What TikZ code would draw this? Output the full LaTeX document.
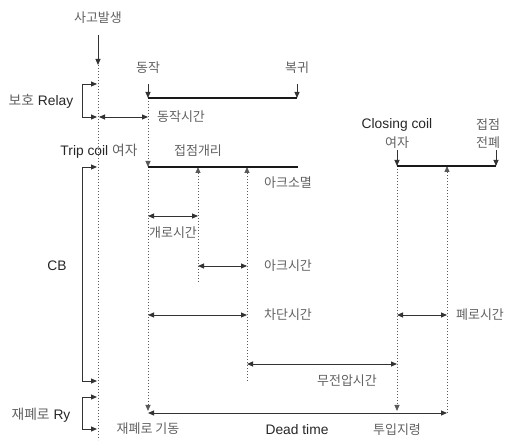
\documentclass[tikz,border=0pt]{standalone}
\usepackage{fontspec}
\setmainfont{Liberation Sans}
\newfontfamily\kr{Noto Sans CJK KR}
\usetikzlibrary{arrows.meta}
\begin{document}
\begin{tikzpicture}[x=1pt,y=-1pt,
  >={Triangle[length=6pt,width=5pt]},
  lbl/.style={font=\fontsize{13.8}{16}\selectfont, text=black!85, inner sep=0pt},
  kl/.style={font=\kr\fontsize{13}{16}\selectfont, text=black!62, inner sep=0pt},
  ln/.style={draw=black!80, line width=0.9pt},
  bar/.style={draw=black!90, line width=2.6pt},
  dot/.style={draw=black!65, line width=0.8pt, dash pattern=on 1.4pt off 1.6pt}]
\useasboundingbox (0,0) rectangle (507,441);

% ---------- labels ----------
\node[kl] (sago) at (98,18) {사고발생};
\node[kl] (dongjak) at (148,68) {동작};
\node[kl] (bokgwi) at (297,68) {복귀};
\node[lbl] (relay) at (41,101) {{\kr\color{black!62}보호} Relay};
\node[kl] (djtime) at (181,117) {동작시간};
\node[lbl] (trip) at (99,151) {Trip coil {\kr\color{black!62}여자}};
\node[kl] (gaeri) at (198,151) {접점개리};
\node[kl] (arcend) at (288,183) {아크소멸};
\node[kl] (gaero) at (173,233) {개로시간};
\node[lbl] (cb) at (57,266) {CB};
\node[kl] (arctime) at (288,266) {아크시간};
\node[kl] (chadan) at (288,315) {차단시간};
\node[kl] (pyero) at (480,315) {폐로시간};
\node[kl] (mujeon) at (347,381) {무전압시간};
\node[lbl] (closing) at (397,125) {Closing coil};
\node[kl] (yeoja) at (397,143) {여자};
\node[kl] (jeopjeom) at (488,125) {접점};
\node[kl] (jeonpye) at (488,143) {전폐};
\node[lbl] (ry) at (41,415) {{\kr\color{black!62}재폐로} Ry};
\node[kl] (gidong) at (148,429) {재폐로 기동};
\node[lbl] (dead) at (297,430) {Dead time};
\node[kl] (tuip) at (397,430) {투입지령};

% ---------- coordinates ----------
\coordinate (a0) at (98,35);   \coordinate (a1) at (98,65);
\coordinate (aend) at (98,440);
\coordinate (a84) at (97,84);  \coordinate (a117) at (97,117);
\coordinate (a117r) at (99,117);
\coordinate (a167) at (97,167); \coordinate (a381) at (97,381);
\coordinate (a397) at (97,397); \coordinate (a429) at (97,429);
\coordinate (k84) at (82,84);  \coordinate (k117) at (82,117);
\coordinate (k167) at (82,167); \coordinate (k381) at (82,381);
\coordinate (k397) at (82,397); \coordinate (k429) at (82,429);

\coordinate (b0) at (148,84);  \coordinate (b1) at (148,98);
\coordinate (b167) at (148,167); \coordinate (b117) at (148,117);
\coordinate (b216) at (148,216); \coordinate (b315) at (148,315);
\coordinate (bend) at (148,411); \coordinate (b413) at (148,413);
\coordinate (r0) at (297,84);  \coordinate (r1) at (297,98);
\coordinate (cbend) at (298,167);

\coordinate (c167) at (198,167); \coordinate (cend) at (198,282);
\coordinate (c216) at (198,216); \coordinate (c266) at (198,266);
\coordinate (d167) at (247,167); \coordinate (dend) at (247,381);
\coordinate (d266) at (247,266); \coordinate (d315) at (247,315);
\coordinate (d364) at (247,364);

\coordinate (e0) at (397,150); \coordinate (e166) at (397,166);
\coordinate (e315) at (397,315); \coordinate (e364) at (397,364);
\coordinate (eend) at (397,411);
\coordinate (g0) at (496,150); \coordinate (g166) at (496,166);
\coordinate (f166) at (447,166); \coordinate (f315) at (447,315);
\coordinate (f413) at (447,413);

% ---------- time axes ----------
\draw[ln,->] (a0) -- (a1);
\draw[dot] (a1) -- (aend);
\draw[ln,->] (b0) -- (b1);
\draw[dot,->] (b1) -- (b167);
\draw[dot,->] (b167) -- (bend);
\draw[ln,->] (r0) -- (r1);
\draw[ln,->] (e0) -- (e166);
\draw[ln,->] (g0) -- (g166);
\draw[dot,->] (cend) -- (c167);
\draw[dot,->] (dend) -- (d167);
\draw[dot,->] (e166) -- (eend);
\draw[dot,->] (f413) -- (f166);

% ---------- bars ----------
\draw[bar] (b1) -- (r1);
\draw[bar] (b167) -- (cbend);
\draw[bar] (e166) -- (g166);

% ---------- brackets ----------
\draw[ln,<->] (a84) -- (k84) -- (k117) -- (a117);
\draw[ln,<->] (a167) -- (k167) -- (k381) -- (a381);
\draw[ln,<->] (a397) -- (k397) -- (k429) -- (a429);

% ---------- intervals ----------
\draw[ln,<->] (a117r) -- (b117);
\draw[ln,<->] (b216) -- (c216);
\draw[ln,<->] (c266) -- (d266);
\draw[ln,<->] (b315) -- (d315);
\draw[ln,<->] (d364) -- (e364);
\draw[ln,<->] (e315) -- (f315);
\draw[ln,<->] (b413) -- (f413);
\end{tikzpicture}
\end{document}
